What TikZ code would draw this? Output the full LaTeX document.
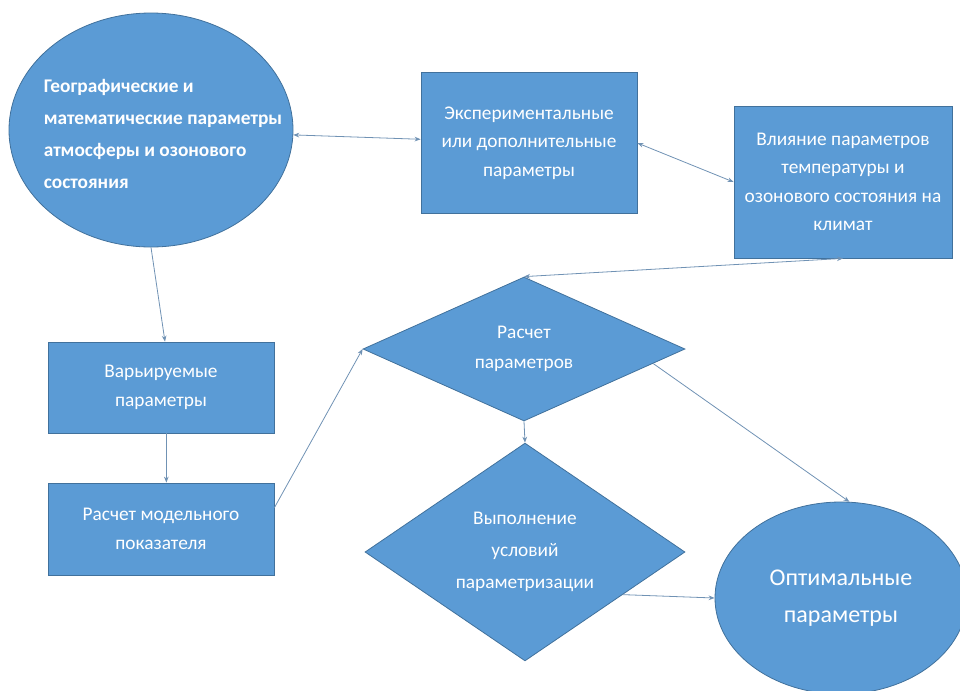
\documentclass[tikz,border=0pt]{standalone}
\usepackage{fontspec}
\setmainfont{Carlito}
\usetikzlibrary{arrows.meta,shapes.geometric,calc}

\definecolor{boxblue}{RGB}{91,155,213}
\definecolor{boxedge}{RGB}{65,113,156}
\definecolor{linkblue}{RGB}{112,146,180}

\begin{document}
\begin{tikzpicture}[x=0.75pt,y=-0.75pt,
    blk/.style={fill=boxblue,draw=boxedge,line width=0.6pt,text=white,align=center,inner sep=0pt,
        font=\fontsize{14.5}{21.4}\selectfont},
    box/.style={blk,rectangle},
    oval/.style={blk,ellipse},
    choice/.style={blk,diamond},
    link/.style={draw=linkblue,line width=0.6pt,-{Stealth[length=4.5pt,width=3.5pt]}},
    both/.style={draw=linkblue,line width=0.6pt,{Stealth[length=4.5pt,width=3.5pt]}-{Stealth[length=4.5pt,width=3.5pt]}}]
    \useasboundingbox (0,0) rectangle (960,690);

    % upper row
    \node [oval,minimum width=213pt,minimum height=175.5pt] (geo) at (151,130) {};
    \node [text=white,align=left,font=\bfseries\fontsize{14.5}{24}\selectfont] (geotxt) at (163,134)
        {Географические и\\математические параметры\\атмосферы и озонового\\состояния};
    \node [box,minimum width=162pt,minimum height=105.75pt] (exp) at (529,143)
        {Экспериментальные\\или дополнительные\\параметры};
    \node [box,minimum width=163.5pt,minimum height=114pt] (clim) at (843,182)
        {Влияние параметров\\температуры и\\озонового состояния на\\климат};

    % left column
    \node [box,minimum width=169.5pt,minimum height=68.25pt] (var) at (161,387.5)
        {Варьируемые\\параметры};
    \node [box,minimum width=169.5pt,minimum height=69pt] (model) at (161,529)
        {Расчет модельного\\показателя};

    % decisions and result
    \node [choice,minimum width=241.5pt,minimum height=100.5pt,font=\fontsize{14.5}{22.5}\selectfont] (calc) at (524,349)
        {Расчет\\параметров};
    \node [choice,minimum width=240pt,minimum height=141pt,font=\fontsize{14.5}{24}\selectfont] (cond) at (525,552)
        {Выполнение\\условий\\параметризации};
    \node [oval,minimum width=189pt,minimum height=144pt,font=\fontsize{18}{28}\selectfont] (opt) at (841,598)
        {Оптимальные\\параметры};

    % connectors
    \draw [both] (geo) -- (exp);
    \draw [both] (exp.east) -- (clim.west);
    \draw [both] (clim.south) -- (calc.north);
    \draw [link] (geo.south) -- ([xshift=3pt]var.north);
    \draw [link] ([xshift=4pt]var.south) -- ([xshift=4pt]model.north);
    \draw [link] ([yshift=16pt]model.east) -- (calc.west);
    \draw [link] (calc.south) -- (cond.north);
    \draw [link] ($(calc.east)!0.2!(calc.south)$) -- (opt.85);
    \draw [link] ($(cond.east)!0.39!(cond.south)$) -- (opt.west);
\end{tikzpicture}
\end{document}
